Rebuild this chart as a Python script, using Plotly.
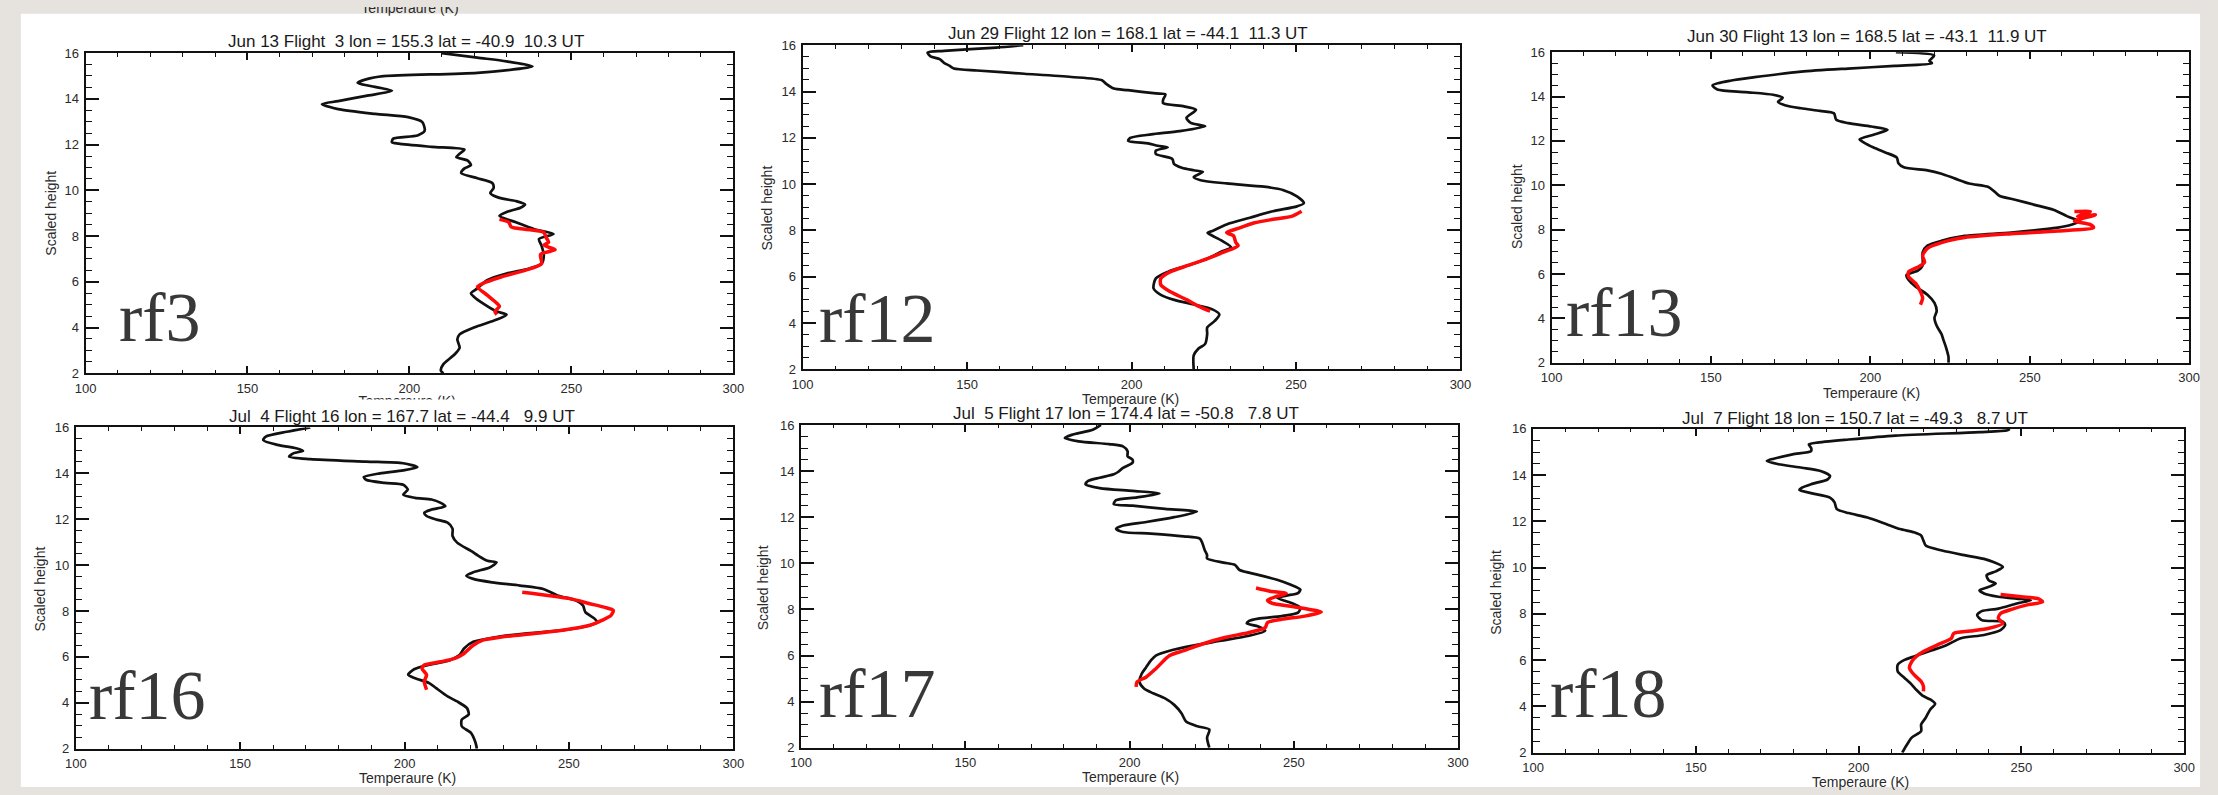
import plotly.graph_objects as go

W, H = 2218, 795

# ---------------- data (temperature K, scaled height) ----------------
titles = [
    "Jun 13 Flight  3 lon = 155.3 lat = -40.9  10.3 UT",
    "Jun 29 Flight 12 lon = 168.1 lat = -44.1  11.3 UT",
    "Jun 30 Flight 13 lon = 168.5 lat = -43.1  11.9 UT",
    "Jul  4 Flight 16 lon = 167.7 lat = -44.4   9.9 UT",
    "Jul  5 Flight 17 lon = 174.4 lat = -50.8   7.8 UT",
    "Jul  7 Flight 18 lon = 150.7 lat = -49.3   8.7 UT",
]
flight_labels = ["rf3", "rf12", "rf13", "rf16", "rf17", "rf18"]
x_title = "Temperaure (K)"
y_title = "Scaled height"
x_ticks = [100, 150, 200, 250, 300]
y_ticks = [2, 4, 6, 8, 10, 12, 14, 16]

rf3_black_h = [16.0, 15.8, 15.64, 15.42, 15.14, 14.99, 14.85, 14.7, 14.56, 14.35, 14.13, 13.9, 13.77, 13.55, 13.34, 13.2, 12.98, 12.6, 12.4, 12.26, 12.1, 12.04, 11.9, 11.78, 11.6, 11.45, 11.3, 11.1, 10.96, 10.75, 10.53, 10.32, 10.1, 9.88, 9.67, 9.53, 9.38, 9.24, 9.05, 8.88, 8.6, 8.3, 8.09, 7.87, 7.58, 7.15, 6.79, 6.58, 6.36, 6.07, 5.71, 5.5, 5.35, 5.06, 4.7, 4.56, 4.35, 4.0, 3.7, 3.48, 3.12, 2.83, 2.4, 2.12, 2.0]
rf3_black_T = [210, 221, 230, 238, 221, 192, 186.6, 184, 188, 194.6, 186.6, 178, 173, 178, 189.5, 199.6, 204, 204.7, 202.5, 195, 194.6, 196.7, 206.9, 217, 215.5, 214.5, 218, 219, 217, 216, 221, 225.6, 226, 225, 227.8, 232.9, 235.7, 234.3, 230, 227.8, 232.9, 238.6, 244.5, 240, 240.8, 241.5, 240.8, 237, 230, 224, 221, 219, 219.9, 222.7, 227, 230, 227, 219.9, 215.5, 214.8, 215.5, 214, 210.5, 209.7, 210.5]
rf3_red_h = [8.73, 8.6, 8.4, 8.3, 8.16, 7.94, 7.73, 7.6, 7.4, 7.2, 6.79, 6.5, 6.22, 5.93, 5.78, 5.42, 5.06, 4.92, 4.7, 4.56]
rf3_red_T = [227.8, 230.7, 231.4, 235.7, 241.5, 242.2, 243, 241.5, 245, 240.5, 240.8, 235.7, 228.5, 222.7, 221, 224, 227, 227.8, 226.4, 227]

rf12_black_h = [16.0, 15.9, 15.76, 15.69, 15.52, 15.4, 15.24, 15.12, 15.0, 14.91, 14.77, 14.63, 14.49, 14.32, 14.13, 14.06, 13.92, 13.88, 13.64, 13.5, 13.36, 13.21, 12.86, 12.65, 12.5, 12.29, 12.15, 12.0, 11.87, 11.76, 11.66, 11.59, 11.45, 11.3, 11.09, 10.88, 10.71, 10.6, 10.53, 10.31, 10.17, 10.03, 9.89, 9.75, 9.47, 9.18, 9.04, 8.83, 8.55, 8.26, 7.98, 7.9, 7.77, 7.56, 7.27, 7.09, 6.78, 6.5, 6.21, 5.93, 5.5, 5.22, 5.0, 4.8, 4.59, 4.37, 4.09, 3.8, 3.52, 3.1, 2.89, 2.6, 2.0]
rf12_black_T = [167.1, 158.9, 143, 138, 138.9, 141.7, 143, 144.6, 146, 153, 167.4, 181.7, 191, 192.4, 194.6, 198.9, 207.4, 210.3, 209.6, 209.6, 216, 219.6, 216.7, 218, 222.4, 214.6, 206, 199.6, 199, 205, 208, 211, 207.4, 207.4, 212.4, 212.9, 215.3, 218.9, 221.7, 218.9, 221, 228.9, 240.3, 246, 250.3, 252.4, 250.3, 243, 236, 228.9, 224.6, 223.1, 224.6, 227.4, 230.3, 227.4, 223, 217.4, 211, 207.4, 206.7, 208.9, 213, 218.9, 224.6, 226.7, 225.3, 223, 223, 222.4, 220.3, 218.9, 218.9]
rf12_red_h = [8.83, 8.62, 8.48, 8.33, 8.12, 7.91, 7.77, 7.48, 7.34, 7.06, 6.78, 6.5, 6.21, 5.93, 5.65, 5.36, 5.01, 4.73, 4.51]
rf12_red_T = [251.7, 248.9, 243, 237.4, 233.1, 228.9, 231, 231.7, 232.4, 228, 223.1, 217.4, 211.7, 208.9, 208.9, 211.7, 216.7, 220.3, 223.9]

rf13_black_h = [16.0, 15.85, 15.6, 15.5, 15.38, 15.26, 15.12, 14.87, 14.72, 14.5, 14.32, 14.2, 14.08, 13.94, 13.76, 13.61, 13.47, 13.35, 13.24, 12.95, 12.8, 12.65, 12.5, 12.28, 12.07, 11.92, 11.7, 11.48, 11.25, 10.99, 10.81, 10.67, 10.52, 10.3, 10.08, 9.93, 9.71, 9.52, 9.34, 9.12, 8.9, 8.6, 8.38, 8.23, 8.09, 7.87, 7.72, 7.5, 7.28, 6.98, 6.39, 6.17, 5.95, 5.73, 5.43, 5.07, 4.7, 4.33, 4.03, 3.67, 3.3, 3.0, 2.71, 2.27, 2.0]
rf13_black_T = [208, 220, 218.5, 219.3, 207.6, 193, 178.3, 163.7, 156.4, 150.5, 152, 160.8, 169.5, 172.5, 171, 173.2, 178.3, 184.2, 188.6, 189.3, 193, 200.3, 205.4, 201, 196.6, 198, 201, 204.7, 208.3, 208.8, 210.5, 217.9, 222.3, 226.6, 231, 236.9, 239, 240.6, 245.7, 251.5, 257.4, 261.8, 265.4, 263.3, 258.8, 244.2, 229.6, 222.3, 217.9, 216.4, 216.4, 215, 211.3, 212, 214.2, 217.9, 220.1, 220.8, 220.1, 220.8, 222.3, 223.0, 223.7, 224.5, 224.5]
rf13_red_h = [8.82, 8.82, 8.6, 8.67, 8.48, 8.38, 8.23, 8.09, 7.94, 7.82, 7.65, 7.42, 7.16, 6.83, 6.54, 6.32, 6.1, 5.88, 5.58, 5.21, 4.92, 4.62]
rf13_red_T = [264, 269, 265, 270.6, 266, 264, 269, 270, 258.8, 244.2, 229.6, 222.3, 217.9, 216.4, 217, 215, 212, 212, 214.2, 215.7, 216.4, 215.7]

rf16_black_h = [16.0, 15.81, 15.6, 15.45, 15.24, 15.09, 14.98, 14.88, 14.73, 14.62, 14.51, 14.44, 14.27, 14.13, 14.0, 13.84, 13.72, 13.58, 13.5, 13.29, 13.07, 12.93, 12.86, 12.71, 12.57, 12.42, 12.28, 12.14, 11.99, 11.85, 11.59, 11.27, 10.98, 10.62, 10.41, 10.19, 10.12, 9.9, 9.69, 9.54, 9.4, 9.25, 9.11, 8.96, 8.68, 8.46, 8.24, 7.95, 7.67, 7.52, 7.38, 7.16, 7.02, 6.87, 6.66, 6.37, 6.08, 5.86, 5.72, 5.58, 5.43, 5.22, 5.07, 4.86, 4.64, 4.28, 4.06, 3.77, 3.49, 3.27, 2.98, 2.69, 2.26, 2.0]
rf16_black_T = [171.3, 164.2, 157.8, 157, 161.3, 167, 169.1, 166.3, 164.9, 171.3, 188.3, 199.6, 203.9, 199.6, 192.5, 187.6, 188.3, 194, 199.6, 201, 199.6, 203.2, 208.2, 211, 212.4, 208.2, 206, 206.7, 209.6, 213.1, 214.6, 214.6, 216, 220.2, 222.4, 225.2, 228, 225.9, 220.9, 218.8, 220.9, 226.6, 235.1, 242.2, 246.5, 252.2, 254.3, 255, 257.8, 258.6, 256.4, 247.9, 236.6, 228, 220.9, 218.1, 216.7, 213.8, 209.6, 205.3, 202.5, 201.1, 203.2, 207.5, 209.6, 213.1, 216, 219, 219.5, 217.4, 217.4, 220.2, 221.6, 222]
rf16_red_h = [8.82, 8.68, 8.53, 8.32, 8.17, 8.03, 7.81, 7.59, 7.38, 7.16, 7.02, 6.87, 6.73, 6.51, 6.15, 5.94, 5.79, 5.65, 5.5, 5.22, 4.93, 4.57]
rf16_red_T = [235.8, 243.6, 250.7, 256.4, 260.7, 263.5, 262.8, 260, 256.4, 247.9, 239.4, 229.5, 223.8, 220.9, 218.1, 215.3, 211, 206, 205.3, 206.7, 206, 206.7]

rf17_black_h = [16.0, 15.79, 15.57, 15.43, 15.29, 15.17, 15.07, 14.86, 14.64, 14.5, 14.36, 14.14, 13.97, 13.86, 13.71, 13.57, 13.43, 13.26, 13.14, 13.03, 12.86, 12.74, 12.57, 12.5, 12.36, 12.24, 12.0, 11.79, 11.64, 11.5, 11.36, 11.29, 11.17, 11.07, 10.86, 10.57, 10.36, 10.21, 10.03, 9.93, 9.71, 9.5, 9.29, 9.07, 8.86, 8.71, 8.6, 8.5, 8.29, 8.07, 7.86, 7.71, 7.6, 7.5, 7.39, 7.26, 7.07, 6.86, 6.64, 6.43, 6.21, 6.0, 5.79, 5.5, 5.21, 4.86, 4.57, 4.36, 4.14, 3.86, 3.5, 3.14, 2.93, 2.79, 2.43, 2.0]
rf17_black_T = [191.3, 188.8, 182.4, 180.3, 184.5, 193.8, 198, 199.4, 199.4, 200.9, 200.9, 198, 196.6, 195.2, 190.9, 187.4, 186.6, 190.9, 200.9, 209.1, 202.3, 195.9, 195.2, 200.9, 210.8, 220.5, 213.6, 205.1, 198, 195.9, 198, 206.5, 216.5, 221.4, 222.2, 222.9, 223.6, 223.6, 228.6, 232.1, 233.5, 239.2, 244.9, 249.1, 252, 251.3, 247.7, 244.9, 249.1, 252, 251.3, 246.3, 239.2, 236.4, 235.7, 239.2, 241.3, 236.4, 227.8, 219.3, 212.2, 208, 206.5, 205.1, 203.7, 203, 204.4, 207.2, 210.8, 213.6, 215.8, 217.2, 220.7, 224.3, 223.6, 224.3]
rf17_red_h = [8.93, 8.79, 8.69, 8.57, 8.4, 8.26, 8.14, 8.0, 7.89, 7.71, 7.57, 7.43, 7.21, 7.0, 6.79, 6.5, 6.21, 6.0, 5.43, 5.07, 4.86, 4.64]
rf17_red_T = [238.5, 242.8, 247.7, 244.9, 242, 243.5, 249.1, 254.8, 258.4, 253.4, 246.3, 242, 241.3, 236.4, 229.3, 222.2, 216.5, 212.2, 208, 205.1, 202.3, 202]

rf18_black_h = [16.0, 15.94, 15.86, 15.71, 15.54, 15.4, 15.33, 15.18, 15.04, 14.9, 14.71, 14.61, 14.47, 14.32, 14.18, 13.97, 13.82, 13.61, 13.46, 13.36, 13.22, 13.03, 12.82, 12.53, 12.36, 12.17, 11.89, 11.67, 11.53, 11.39, 11.17, 10.96, 10.74, 10.53, 10.38, 10.24, 10.03, 9.84, 9.67, 9.45, 9.31, 9.17, 9.02, 8.88, 8.74, 8.66, 8.59, 8.45, 8.23, 8.12, 7.95, 7.73, 7.66, 7.52, 7.3, 7.09, 6.95, 6.66, 6.44, 6.3, 6.16, 6.01, 5.8, 5.51, 5.23, 4.94, 4.72, 4.44, 4.3, 4.11, 3.87, 3.51, 3.22, 2.93, 2.65, 2.36, 2.0]
rf18_black_T = [246.4, 245.7, 237.1, 211.3, 196.9, 186.9, 184.7, 185.4, 185.4, 179.7, 173.9, 171.8, 175.4, 182.6, 188.3, 191.2, 190.5, 185.4, 182.6, 181.8, 185.4, 191.2, 192.6, 193.3, 196.9, 202.7, 208.4, 212.7, 217, 219.2, 219.9, 220.6, 225.6, 232.8, 238.5, 241.4, 244.3, 242.1, 239.3, 240, 242.1, 240, 237.1, 238.5, 242.9, 248.6, 252.9, 248.6, 242.9, 237.8, 236.4, 237.8, 244.3, 245, 243.6, 238.5, 231.4, 227.1, 222.8, 219.9, 217, 214.1, 212, 212, 214.1, 216.3, 217.7, 219.9, 222, 223.5, 222, 220.6, 219.2, 219.2, 216.3, 214.9, 213.4]
rf18_red_h = [8.84, 8.74, 8.66, 8.52, 8.38, 8.21, 8.02, 7.81, 7.59, 7.38, 7.26, 7.16, 6.95, 6.66, 6.37, 6.16, 5.94, 5.66, 5.37, 5.08, 4.87, 4.65]
rf18_red_T = [243.6, 250, 255.1, 256.5, 251.5, 247.2, 243.6, 242.9, 244.3, 240, 234.2, 229.2, 228.5, 224.2, 219.9, 217.7, 216.3, 215.6, 217, 219.2, 219.9, 219.9]

black_series = [(rf3_black_T, rf3_black_h), (rf12_black_T, rf12_black_h), (rf13_black_T, rf13_black_h),
                (rf16_black_T, rf16_black_h), (rf17_black_T, rf17_black_h), (rf18_black_T, rf18_black_h)]
red_series = [(rf3_red_T, rf3_red_h), (rf12_red_T, rf12_red_h), (rf13_red_T, rf13_red_h),
              (rf16_red_T, rf16_red_h), (rf17_red_T, rf17_red_h), (rf18_red_T, rf18_red_h)]

# ---------------- layout geometry (pixels) ----------------
frames = [(75.3, 729.5, 47, 373.3), (799.5, 1464, 39, 369.3), (1556, 2200, 46, 362.7),
          (65.5, 729.5, 428.5, 756), (798, 1461.5, 426, 755), (1537.3, 2195, 430, 760)]
title_pos = [(399, 35), (1128, 27), (1875, 30), (395, 417), (1126, 414), (1862, 419)]
xtitle_pos = [None, (1131, 400), (1879, 393), (400, 786), (1131, 785), (1868, 790)]
ytitle_pos = [(40, 210), (764, 205), (1521, 203), (29, 593), (759, 592), (1500, 597)]
label_pos = [(108, 342), (815, 343), (1570, 337), (78, 727), (815, 725), (1553, 725)]
# partially hidden axis titles: (clip left, right, top, bottom, text x, text y)
fragments = [(300, 510, 0, 9, 403, 3), (300, 510, 396, 400, 400, 403)]

def px(x):
    return x / W

def py(y):
    return 1 - y / H

SANS = "Liberation Sans, Arial, sans-serif"
SERIF = "Liberation Serif, Times New Roman, serif"
TXT = "#2a2a2a"

fig = go.Figure()
layout = dict(
    width=W, height=H, margin=dict(l=0, r=0, t=0, b=0),
    paper_bgcolor="#e6e3df", plot_bgcolor="rgba(0,0,0,0)",
    showlegend=False, annotations=[], shapes=[],
)

layout["shapes"].append(dict(type="rect", xref="paper", yref="paper", layer="below",
                             x0=px(10), x1=px(2211), y0=0, y1=py(7),
                             fillcolor="white", line=dict(width=0)))

for i in range(6):
    n = "" if i == 0 else str(i + 1)
    l, r, t, b = frames[i]
    common = dict(showline=True, linecolor="#111", linewidth=2, mirror="ticks",
                  ticks="inside", tickcolor="#111", showgrid=False, zeroline=False,
                  tickfont=dict(family=SANS, size=13, color=TXT))
    layout["xaxis" + n] = dict(domain=[px(l), px(r)], range=[100, 300], anchor="y" + n,
                               tickvals=x_ticks, ticklen=7, tickwidth=1.6, ticklabelstandoff=2,
                               minor=dict(dtick=10, ticks="inside", ticklen=3.5, tickwidth=1.3, tickcolor="#111"),
                               **common)
    layout["yaxis" + n] = dict(domain=[py(b), py(t)], range=[2, 16], anchor="x" + n,
                               tickvals=y_ticks, ticklen=13, tickwidth=1.6, ticklabelstandoff=2,
                               minor=dict(dtick=0.5, ticks="inside", ticklen=6.5, tickwidth=1.3, tickcolor="#111"),
                               **common)
    bT, bh = black_series[i]
    rT, rh = red_series[i]
    fig.add_trace(go.Scatter(x=bT, y=bh, mode="lines", xaxis="x" + n, yaxis="y" + n, hoverinfo="skip",
                             line=dict(color="#111111", width=2.7, shape="spline", smoothing=0.7)))
    fig.add_trace(go.Scatter(x=rT, y=rh, mode="lines", xaxis="x" + n, yaxis="y" + n, hoverinfo="skip",
                             line=dict(color="#ff0a0a", width=3.5, shape="spline", smoothing=0.7)))

    tx, ty = title_pos[i]
    layout["annotations"].append(dict(text=titles[i], x=px(tx), y=py(ty), xref="paper", yref="paper",
                                      xanchor="center", yanchor="middle", showarrow=False,
                                      font=dict(family=SANS, size=17, color="#1a1a1a")))
    if xtitle_pos[i] is not None:
        xx, xy = xtitle_pos[i]
        layout["annotations"].append(dict(text=x_title, x=px(xx), y=py(xy), xref="paper", yref="paper",
                                          xanchor="center", yanchor="middle", showarrow=False,
                                          font=dict(family=SANS, size=14, color=TXT)))
    yx, yy = ytitle_pos[i]
    layout["annotations"].append(dict(text=y_title, x=px(yx), y=py(yy), xref="paper", yref="paper",
                                      xanchor="center", yanchor="middle", showarrow=False, textangle=-90,
                                      font=dict(family=SANS, size=14, color=TXT)))
    lx, lb = label_pos[i]
    layout["annotations"].append(dict(text=flight_labels[i], x=px(lx), y=py(lb + 15), xref="paper", yref="paper",
                                      xanchor="left", yanchor="bottom", showarrow=False, borderpad=0,
                                      font=dict(family=SERIF, size=70, color="#383838")))

# clipped fragments of axis titles belonging to neighbouring slides
for k, (cl, cr, ct, cb, fx, fy) in enumerate(fragments):
    n = str(7 + k)
    layout["xaxis" + n] = dict(domain=[px(cl), px(cr)], range=[cl, cr], visible=False,
                               anchor="y" + n, fixedrange=True)
    layout["yaxis" + n] = dict(domain=[py(cb), py(ct)], range=[cb, ct], visible=False,
                               anchor="x" + n, fixedrange=True)
    fig.add_trace(go.Scatter(x=[fx], y=[fy], mode="text", text=[x_title], textposition="middle center",
                             cliponaxis=True, hoverinfo="skip", xaxis="x" + n, yaxis="y" + n,
                             textfont=dict(family=SANS, size=14, color=TXT)))

fig.update_layout(**layout)
fig.write_html("out.html")
